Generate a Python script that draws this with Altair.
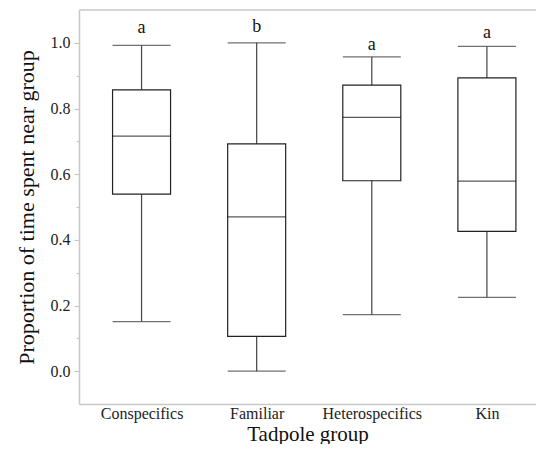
import altair as alt
import pandas as pd

groups = ["Conspecifics", "Familiar", "Heterospecifics", "Kin"]
mins = [0.151, 0.0, 0.172, 0.225]
q1s = [0.539, 0.106, 0.580, 0.426]
medians = [0.716, 0.470, 0.773, 0.579]
q3s = [0.857, 0.692, 0.871, 0.893]
maxs = [0.992, 1.0, 0.957, 0.989]
letters = ["a", "b", "a", "a"]
letter_y = [1.030, 1.033, 0.977, 1.014]
y_ticks = [0.0, 0.1, 0.2, 0.3, 0.4, 0.5, 0.6, 0.7, 0.8, 0.9, 1.0]

df = pd.DataFrame({
    "idx": list(range(len(groups))),
    "group": groups,
    "min": mins,
    "q1": q1s,
    "median": medians,
    "q3": q3s,
    "max": maxs,
    "letter": letters,
    "ly": letter_y,
})

FONT = "Liberation Serif"
AX = "#c8c8c8"
label_expr = "[" + ",".join("'" + g + "'" for g in groups) + "][datum.value]"

x = alt.X(
    "idx:Q",
    scale=alt.Scale(domain=[-0.5, 3.383], nice=False, zero=False),
    axis=alt.Axis(
        values=list(range(len(groups))),
        labelExpr=label_expr,
        ticks=False,
        grid=False,
        labelOverlap=False,
        labelFlush=False,
        labelPadding=1,
        labelFont=FONT,
        title="Tadpole group",
        titlePadding=2,
        titleFontSize=21,
    ),
)

y_axis = alt.Axis(
    values=y_ticks,
    labelExpr="round(datum.value*10) % 2 == 0 ? format(datum.value, '.1f') : ''",
    tickSize={"condition": {"test": "round(datum.value*10) % 2 == 0", "value": 5}, "value": 3},
    grid=False,
    labelPadding=4,
    labelOverlap=False,
    labelFlush=False,
    labelFont=FONT,
    title="Proportion of time spent near group",
    titlePadding=12,
)
yscale = alt.Scale(domain=[-0.1, 1.1], nice=False, zero=False)

base = alt.Chart(df)

whisker = base.mark_rule(color="#444444", strokeWidth=1.2).encode(
    x=x, y=alt.Y("min:Q", scale=yscale, axis=y_axis), y2="max:Q"
)
cap_lo = base.mark_tick(orient="horizontal", size=58, thickness=1.3, color="#333333").encode(
    x=x, y=alt.Y("min:Q", scale=yscale, axis=y_axis)
)
cap_hi = base.mark_tick(orient="horizontal", size=58, thickness=1.3, color="#333333").encode(
    x=x, y=alt.Y("max:Q", scale=yscale, axis=y_axis)
)
box = base.mark_bar(size=58, fill="white", stroke="#222222", strokeWidth=1.2).encode(
    x=x, y=alt.Y("q1:Q", scale=yscale, axis=y_axis), y2="q3:Q"
)
med = base.mark_tick(orient="horizontal", size=58, thickness=1.3, color="#111111").encode(
    x=x, y=alt.Y("median:Q", scale=yscale, axis=y_axis)
)
txt = base.mark_text(font=FONT, fontSize=18, baseline="alphabetic", color="#111111").encode(
    x=x, y=alt.Y("ly:Q", scale=yscale, axis=y_axis), text="letter:N"
)
top = base.mark_rule(color="#d4d4d4", strokeWidth=1.5).encode(y=alt.value(0))

chart = (
    alt.layer(top, whisker, cap_lo, cap_hi, box, med, txt)
    .properties(
        width=457,
        height=394,
        autosize=alt.AutoSizeParams(type="none"),
        padding={"left": 71, "top": 2, "right": 0, "bottom": 40},
    )
    .configure_view(stroke=None)
    .configure_axis(
        domainColor=AX,
        domainWidth=1.5,
        tickColor=AX,
        tickWidth=1.2,
        labelFont=FONT,
        labelFontSize=16,
        labelColor="#222222",
        titleFont=FONT,
        titleFontSize=22,
        titleFontWeight="normal",
        titleColor="#111111",
    )
)

chart.save("out.html", embed_options={"renderer": "svg", "actions": False})
